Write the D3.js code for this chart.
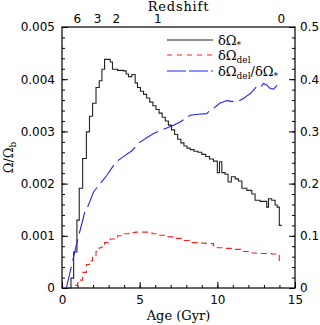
<!DOCTYPE html>
<html>
<head>
<meta charset="utf-8">
<script src="https://cdn.jsdelivr.net/npm/d3@7"></script>
<style>
  body { margin: 0; background: #fff; }
  svg { display: block; }
  .tick text { font-family: "DejaVu Sans", sans-serif; font-size: 12px; fill: #000; }
  .tick line { stroke: #000; stroke-width: 1; }
  .title { font-family: "DejaVu Serif", serif; font-size: 13px; fill: #000; }
</style>
</head>
<body>
<svg id="chart" width="320" height="325"></svg>
<script>
// star formation per bin, bin edges in Gyr (one more edge than values)
var starEdges = [0.40, 0.58, 0.75, 0.96, 1.11, 1.33, 1.57, 1.77, 1.97, 2.19, 2.40, 2.57, 2.74, 3.11, 3.25,
  3.58, 3.96, 4.13, 4.28, 4.50, 4.71, 4.86, 5.05, 5.25, 5.45, 5.65, 5.85, 6.05, 6.25, 6.45, 6.65,
  6.85, 7.05, 7.25, 7.45, 7.65, 7.85, 8.05, 8.25, 8.50, 8.75, 9.00, 9.25, 9.50, 9.75, 10.00, 10.14,
  10.29, 10.50, 10.69, 10.90, 11.15, 11.36, 11.58, 11.90, 12.22, 12.43, 12.75, 13.18, 13.29, 13.50,
  13.72, 13.85, 13.99, 14.15];
var starValues = [0, 0.00019, 0.00069, 0.00130, 0.00191, 0.00248, 0.00299, 0.00329, 0.00354, 0.00384, 0.00397,
  0.00419, 0.00438, 0.00433, 0.00419, 0.00417, 0.00416, 0.00410, 0.00405, 0.00409, 0.00393, 0.00384,
  0.00377, 0.00371, 0.00364, 0.00356, 0.00349, 0.00342, 0.00335, 0.00327, 0.00320, 0.00312, 0.00303,
  0.00294, 0.00285, 0.00278, 0.00272, 0.00268, 0.00265, 0.00262, 0.00260, 0.00256, 0.00252, 0.00247,
  0.00243, 0.00221, 0.00242, 0.00221, 0.00218, 0.00203, 0.00213, 0.00209, 0.00205, 0.00191, 0.00187,
  0.00180, 0.00168, 0.00166, 0.00155, 0.00171, 0.00168, 0.00159, 0.00155, 0.00120];

// delayed component per bin
var delEdges = [0.86, 1.00, 1.11, 1.33, 1.57, 1.77, 1.97, 2.19, 2.40, 2.57, 2.74, 3.11, 3.58, 3.96, 4.30,
  4.70, 5.20, 5.80, 6.30, 6.75, 7.25, 7.75, 8.25, 8.75, 9.25, 9.75, 10.00, 10.50, 11.00, 11.50, 12.00,
  12.50, 13.00, 13.50, 13.99, 14.15];
var delValues = [0.00005, 0.00010, 0.00015, 0.00030, 0.00045, 0.00052, 0.00062, 0.00070, 0.00077, 0.00082,
  0.00087, 0.00094, 0.00100, 0.00104, 0.00106, 0.00107, 0.00107, 0.00104, 0.00101, 0.00098, 0.00095,
  0.00091, 0.00087, 0.00086, 0.00085, 0.00081, 0.00077, 0.00076, 0.00074, 0.00070, 0.00067, 0.00066,
  0.00066, 0.00065, 0.00050];

// ratio (right axis)
var ratioAges = [0.28, 0.96, 1.50, 1.61, 2.03, 2.46, 2.89, 3.32, 3.64, 4.07, 4.50, 5.04, 5.89, 6.53, 7.18,
  7.61, 8.25, 8.78, 9.32, 9.55, 9.75, 10.15, 10.61, 10.95, 11.25, 11.36, 11.79, 11.90, 12.11, 12.50,
  12.75, 12.96, 13.18, 13.40, 13.61, 13.85];
var ratioValues = [0, 0.087, 0.149, 0.152, 0.184, 0.200, 0.216, 0.235, 0.245, 0.254, 0.263, 0.280, 0.296,
  0.304, 0.312, 0.318, 0.331, 0.333, 0.334, 0.341, 0.344, 0.354, 0.359, 0.357, 0.359, 0.358, 0.365,
  0.368, 0.372, 0.385, 0.383, 0.392, 0.389, 0.382, 0.381, 0.388];

var redshiftLabels = ['6', '3', '2', '1', '0'];
var redshiftAges = [0.96, 2.25, 3.47, 6.13, 14.08];

var xTicks = [0, 5, 10, 15];
var yTicks = [0, 0.001, 0.002, 0.003, 0.004, 0.005];
var y2Ticks = [0, 0.1, 0.2, 0.3, 0.4, 0.5];

var svg = d3.select('#chart');
var mLeft = 62, mRight = 295, mTop = 27, mBottom = 288;

var x = d3.scaleLinear().domain([0, 15]).range([mLeft, mRight]);
var y = d3.scaleLinear().domain([0, 0.005]).range([mBottom, mTop]);
var y2 = d3.scaleLinear().domain([0, 0.5]).range([mBottom, mTop]);

function steps(edges, values) {
  var pts = values.map(function(v, i) { return [edges[i], v]; });
  pts.push([edges[values.length], values[values.length - 1]]);
  return pts;
}

// minor ticks
svg.append('g').attr('transform', 'translate(' + mLeft + ',0)')
  .call(d3.axisLeft(y).tickValues(d3.range(0, 0.00501, 0.0002)).tickSize(-3).tickFormat(''));
svg.append('g').attr('transform', 'translate(' + mRight + ',0)')
  .call(d3.axisRight(y2).tickValues(d3.range(0, 0.501, 0.02)).tickSize(-3).tickFormat(''));
svg.append('g').attr('transform', 'translate(0,' + mBottom + ')')
  .call(d3.axisBottom(x).tickValues(d3.range(0, 15.1, 1)).tickSize(-3).tickFormat(''));

// major ticks
svg.append('g').attr('transform', 'translate(' + mLeft + ',0)')
  .call(d3.axisLeft(y).tickValues(yTicks).tickSize(-6).tickPadding(7)
    .tickFormat(function(d) { return d === 0 ? '0' : d3.format('.3f')(d); }));
svg.append('g').attr('transform', 'translate(' + mRight + ',0)')
  .call(d3.axisRight(y2).tickValues(y2Ticks).tickSize(-6).tickPadding(5)
    .tickFormat(function(d) { return d === 0 ? '0' : d3.format('.1f')(d); }));
svg.append('g').attr('transform', 'translate(0,' + mBottom + ')')
  .call(d3.axisBottom(x).tickValues(xTicks).tickSize(-6).tickPadding(7).tickFormat(d3.format('d')));
svg.append('g').attr('transform', 'translate(0,' + mTop + ')')
  .call(d3.axisTop(x).tickValues(redshiftAges).tickSize(0).tickPadding(4)
    .tickFormat(function(d, i) { return redshiftLabels[i]; }));

svg.selectAll('.domain').remove();

svg.append('rect')
  .attr('x', mLeft).attr('y', mTop)
  .attr('width', mRight - mLeft).attr('height', mBottom - mTop)
  .attr('fill', 'none').attr('stroke', '#000').attr('stroke-width', 1.2);

var stepLine = d3.line()
  .x(function(d) { return x(d[0]); })
  .y(function(d) { return y(d[1]); })
  .curve(d3.curveStepAfter);

svg.append('path')
  .datum(steps(starEdges, starValues))
  .attr('d', stepLine)
  .attr('fill', 'none').attr('stroke', '#222').attr('stroke-width', 1.1);

svg.append('path')
  .datum(steps(delEdges, delValues))
  .attr('d', stepLine)
  .attr('fill', 'none').attr('stroke', '#ff2020').attr('stroke-width', 1.1)
  .attr('stroke-dasharray', '6,4');

var ratioLine = d3.line()
  .x(function(d) { return x(d[0]); })
  .y(function(d) { return y2(d[1]); });

svg.append('path')
  .datum(ratioAges.map(function(a, i) { return [a, ratioValues[i]]; }))
  .attr('d', ratioLine)
  .attr('fill', 'none').attr('stroke', '#2020ff').attr('stroke-width', 1.1)
  .attr('stroke-dasharray', '22,6');

// legend
var legend = [
  {y: 40, color: '#222', dash: null, main: 'δΩ', sub: '*'},
  {y: 55, color: '#ff2020', dash: '5,5', main: 'δΩ', sub: 'del'},
  {y: 71, color: '#2020ff', dash: '19,3', main: 'δΩ', sub: 'del', rest: '/δΩ', sub2: '*'}
];
legend.forEach(function(l) {
  svg.append('line')
    .attr('x1', 167).attr('x2', 213).attr('y1', l.y).attr('y2', l.y)
    .attr('stroke', l.color).attr('stroke-width', 1.1)
    .attr('stroke-dasharray', l.dash);
  var t = svg.append('text').attr('class', 'title')
    .attr('x', 218).attr('y', l.y + 5);
  t.append('tspan').text(l.main);
  t.append('tspan').attr('font-size', 9).attr('dy', 3).text(l.sub);
  if (l.rest) {
    t.append('tspan').attr('dy', -3).text(l.rest);
    t.append('tspan').attr('font-size', 9).attr('dy', 3).text(l.sub2);
  }
});

// titles
svg.append('text').attr('class', 'title')
  .attr('x', (mLeft + mRight) / 2).attr('y', 10.5).attr('text-anchor', 'middle')
  .attr('font-size', 11.5).attr('letter-spacing', 0.8).text('Redshift');
svg.append('text').attr('class', 'title')
  .attr('x', (mLeft + mRight) / 2).attr('y', 320).attr('text-anchor', 'middle').text('Age (Gyr)');
var yt = svg.append('text').attr('class', 'title')
  .attr('transform', 'translate(13,' + (mTop + mBottom) / 2 + ') rotate(-90)')
  .attr('text-anchor', 'middle');
yt.append('tspan').text('Ω/Ω');
yt.append('tspan').attr('font-size', 9).attr('dy', 3).text('b');
</script>
</body>
</html>
